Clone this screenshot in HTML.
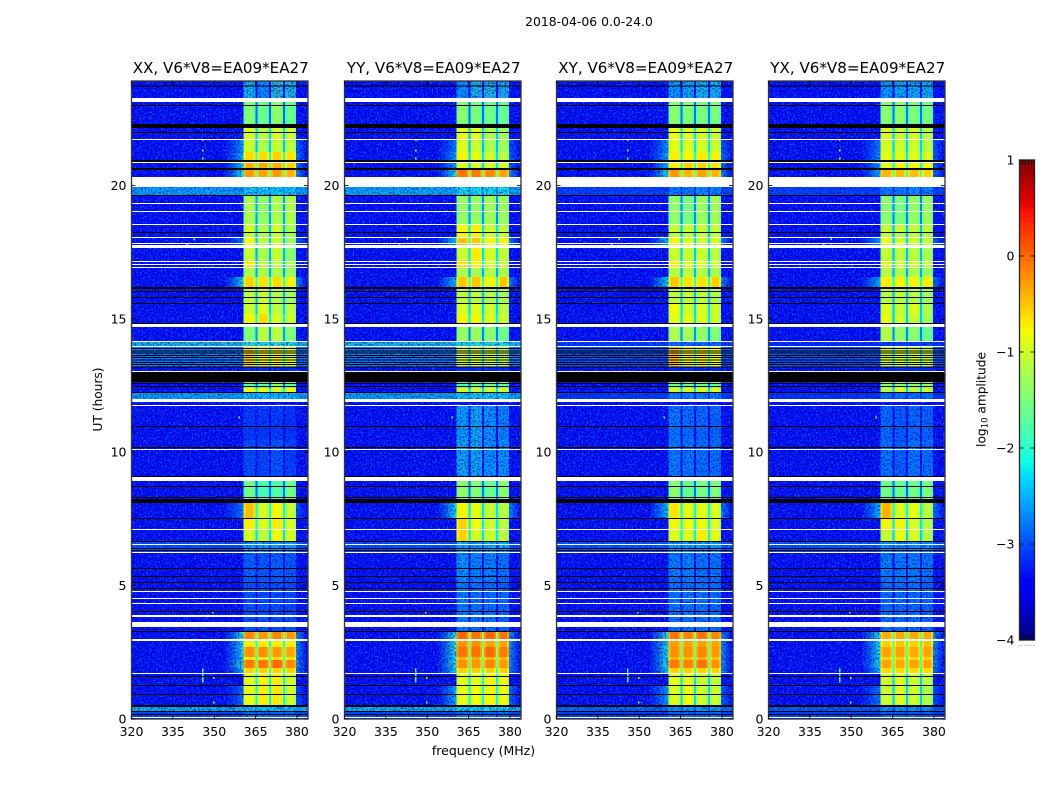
<!DOCTYPE html>
<html lang="en">
<head>
<meta charset="utf-8">
<title>2018-04-06 0.0-24.0 amplitude waterfalls</title>
<style>
html,body{margin:0;padding:0;background:#fff;width:1050px;height:800px;overflow:hidden}
svg{display:block}
text{font-family:"DejaVu Sans","Liberation Sans",sans-serif;fill:#000}
</style>
</head>
<body>
<svg id="figure" xmlns="http://www.w3.org/2000/svg" width="1050" height="800" viewBox="0 0 1050 800">
  <defs id="defs">
    <filter id="speckle-light" x="0" y="0" width="1" height="1" color-interpolation-filters="sRGB">
      <feTurbulence type="fractalNoise" baseFrequency="0.62 0.5" numOctaves="2" seed="4"/>
      <feColorMatrix values="0 0 0 0 0  0 0 0 0 0.38  0 0 0 0 1  4 0 0 0 -2.05"/>
    </filter>
    <filter id="speckle-dark" x="0" y="0" width="1" height="1" color-interpolation-filters="sRGB">
      <feTurbulence type="fractalNoise" baseFrequency="0.6 0.52" numOctaves="2" seed="11"/>
      <feColorMatrix values="0 0 0 0 0  0 0 0 0 0  0 0 0 0 0.74  4.5 0 0 0 -2.15"/>
    </filter>
  </defs>
  <text x="589" y="26" font-size="12.4" text-anchor="middle">2018-04-06 0.0-24.0</text>
  <text x="483.5" y="755" font-size="12.5" text-anchor="middle">frequency (MHz)</text>
  <text x="0" y="0" font-size="12.2" text-anchor="middle" transform="translate(102 399.5) rotate(-90)">UT (hours)</text>
  <text x="0" y="0" font-size="12.2" text-anchor="middle" transform="translate(985.5 399.5) rotate(-90)">log<tspan font-size="8.5" dy="2">10</tspan><tspan dy="-2"> amplitude</tspan></text>
  <g id="panels"></g>
  <g id="colorbar"></g>
</svg>
<script>
// ---------- chart data (hours UT, MHz, log10 amplitude) ----------
const panelTitles = ["XX, V6*V8=EA09*EA27", "YY, V6*V8=EA09*EA27", "XY, V6*V8=EA09*EA27", "YX, V6*V8=EA09*EA27"];
const freqTicks = [320, 335, 350, 365, 380];
const hourTicks = [0, 5, 10, 15, 20];
const colorbarTicks = [1, 0, -1, -2, -3, -4];
const spwLow = [360.6, 365.6, 370.6, 375.6];
const spwHigh = [364.9, 369.9, 375.0, 379.7];
const backgroundLevel = -3.32;

const rowHigh = [23.91,23.13,22.15,21.70,21.25,20.84,20.58,19.94,19.60,18.52,18.22,18.03,17.65,17.13,16.90,16.57,16.12,15.55,15.18,14.69,14.13,13.95,13.19,12.63,12.41,12.22,11.73,10.46,8.92,8.10,7.50,7.08,6.63,6.22,5.10,3.26,2.92,2.70,2.32,2.21,1.91,1.69,1.27,0.45,0.30];
const rowLow  = [23.28,22.30,21.74,21.25,20.95,20.65,20.31,19.64,18.55,18.25,18.07,17.65,17.17,16.94,16.57,16.19,15.59,15.18,14.84,14.17,13.98,13.19,13.01,12.41,12.26,11.99,10.46,9.11,8.25,7.53,7.12,6.67,6.26,5.13,3.30,3.00,2.70,2.32,2.21,1.91,1.72,1.27,0.52,0.30,0];

const levelsXX = [
[-2.1,-2.4,-1.9,-2.0],[-1.45,-1.6,-1.35,-1.6],[-0.9,-1.1,-0.9,-1.0],[-1.0,-1.2,-1.05,-1.1],[-0.6,-0.6,-0.55,-0.65],
[-0.35,-0.35,-0.35,-0.55],[-0.25,-0.3,-0.25,-0.4],[-2.2,-2.2,-2.2,-2.2],[-1.2,-1.35,-1.2,-1.15],[-1.0,-1.2,-1.0,-1.2],
[-1.1,-1.2,-1.05,-1.25],[-0.8,-1.1,-1.0,-1.25],[-1.05,-1.2,-1.05,-1.4],[-0.7,-1.1,-1.1,-1.2],[-1.2,-1.2,-1.2,-1.3],
[-0.55,-0.65,-0.6,-0.75],[-1.05,-1.0,-1.15,-1.25],[-1.0,-0.9,-1.1,-1.1],[-0.75,-0.6,-0.95,-1.0],[-1.45,-1.1,-1.1,-1.45],
[-2.0,-2.0,-2.0,-2.0],[-0.55,-0.7,-0.7,-0.85],[-3.1,-3.1,-3.1,-3.1],[-1.6,-1.6,-1.3,-1.6],[-0.75,-0.8,-0.95,-0.8],
[-2.3,-2.3,-2.3,-2.3],[-3.0,-3.0,-3.0,-3.05],[-2.85,-2.9,-2.8,-2.95],[-1.55,-1.8,-1.75,-1.55],[-0.45,-0.95,-0.75,-1.05],
[-0.7,-0.9,-0.7,-0.95],[-0.95,-1.1,-0.8,-0.95],[-2.35,-2.35,-2.35,-2.35],[-2.7,-2.75,-2.7,-2.75],[-2.8,-2.8,-2.85,-2.85],
[-0.15,-0.25,-0.15,-0.25],[-0.7,-0.7,-0.7,-0.7],[-0.2,-0.2,-0.25,-0.3],[-0.65,-0.65,-0.6,-0.65],[-0.08,-0.08,0.0,-0.15],
[-0.55,-0.55,-0.55,-0.55],[-0.85,-0.75,-0.7,-0.95],[-0.82,-0.72,-0.68,-1.0],[-2.3,-2.3,-2.3,-2.3],[-2.7,-2.7,-2.7,-2.7]];

const levelsYY = [
[-2.4,-2.0,-2.0,-2.1],[-1.4,-1.5,-1.55,-1.6],[-0.85,-0.9,-1.15,-1.25],[-0.9,-1.05,-1.2,-1.25],[-0.75,-0.85,-1.0,-1.1],
[-0.9,-0.95,-0.95,-1.0],[-0.05,-0.1,-0.15,-0.3],[-2.1,-2.1,-2.1,-2.1],[-1.35,-1.35,-1.25,-1.3],[-0.75,-0.7,-1.0,-1.1],
[-0.75,-0.7,-0.95,-1.0],[-0.45,-0.5,-0.75,-0.75],[-1.0,-0.7,-0.95,-1.05],[-0.65,-0.75,-0.95,-1.0],[-1.2,-1.25,-1.15,-1.2],
[-0.5,-0.5,-0.75,-0.5],[-1.05,-1.1,-1.15,-1.2],[-0.95,-0.9,-1.0,-1.1],[-0.75,-0.75,-0.9,-1.0],[-1.3,-1.3,-1.4,-1.55],
[-2.0,-2.0,-2.0,-2.0],[-0.95,-0.95,-1.0,-1.05],[-3.1,-3.1,-3.1,-3.1],[-1.7,-1.5,-1.5,-1.6],[-0.95,-1.0,-0.95,-1.0],
[-2.2,-2.2,-2.2,-2.2],[-2.25,-2.2,-2.35,-2.45],[-2.2,-2.2,-2.35,-2.35],[-1.35,-1.45,-1.6,-1.4],[-0.75,-0.85,-1.05,-1.1],
[-0.55,-0.8,-1.0,-1.1],[-0.55,-0.95,-1.0,-1.1],[-2.25,-2.25,-2.25,-2.25],[-2.35,-2.45,-2.45,-2.55],[-2.5,-2.55,-2.6,-2.65],
[0.02,-0.05,0.02,-0.05],[-0.2,-0.2,-0.3,-0.3],[-0.05,-0.05,0.0,-0.1],[-0.4,-0.4,-0.4,-0.4],[-0.2,-0.25,-0.15,-0.25],
[-0.55,-0.55,-0.55,-0.55],[-0.85,-0.85,-0.75,-0.8],[-0.82,-0.8,-0.75,-0.8],[-2.2,-2.2,-2.2,-2.2],[-2.7,-2.7,-2.7,-2.7]];

const levelsXY = [
[-2.3,-2.2,-2.1,-2.15],[-1.4,-1.45,-1.5,-1.5],[-0.8,-0.9,-0.95,-1.0],[-0.85,-0.9,-0.95,-1.0],[-0.7,-0.75,-0.7,-0.75],
[-0.7,-0.55,-0.55,-0.65],[-0.25,-0.4,-0.3,-0.4],[-2.6,-2.6,-2.5,-2.55],[-1.35,-1.5,-1.3,-1.25],[-1.05,-1.05,-1.05,-1.05],
[-1.05,-1.1,-1.05,-1.1],[-0.75,-0.9,-1.0,-0.95],[-1.0,-1.05,-1.0,-1.1],[-0.7,-0.9,-0.95,-1.0],[-1.1,-1.1,-1.15,-1.2],
[-0.5,-0.65,-0.65,-0.55],[-1.05,-1.05,-1.1,-1.15],[-0.8,-1.0,-0.95,-1.0],[-0.85,-0.85,-0.9,-1.0],[-1.2,-1.25,-1.35,-1.45],
[-2.7,-2.7,-2.7,-2.7],[-0.4,-0.7,-0.7,-0.8],[-3.1,-3.1,-3.1,-3.1],[-1.5,-1.5,-1.5,-1.6],[-0.95,-0.95,-0.9,-0.9],
[-2.55,-2.55,-2.55,-2.55],[-2.55,-2.6,-2.65,-2.65],[-2.5,-2.55,-2.6,-2.6],[-1.4,-1.6,-1.5,-1.45],[-0.65,-0.85,-0.85,-0.9],
[-0.75,-0.8,-0.8,-0.9],[-0.9,-0.9,-0.7,-0.85],[-2.4,-2.4,-2.4,-2.4],[-2.5,-2.45,-2.55,-2.55],[-2.55,-2.55,-2.55,-2.6],
[-0.05,-0.15,-0.05,-0.15],[-0.25,-0.3,-0.3,-0.3],[-0.2,-0.2,-0.15,-0.25],[-0.4,-0.45,-0.35,-0.45],[-0.08,-0.12,-0.03,-0.22],
[-0.55,-0.55,-0.55,-0.55],[-0.85,-0.85,-1.0,-1.05],[-0.9,-0.8,-1.0,-1.0],[-2.45,-2.45,-2.45,-2.45],[-2.7,-2.7,-2.7,-2.7]];

const levelsYX = [
[-2.3,-2.2,-2.2,-2.15],[-1.4,-1.4,-1.5,-1.5],[-0.9,-1.0,-0.95,-1.1],[-0.95,-1.0,-1.0,-1.1],[-0.85,-0.85,-0.9,-0.9],
[-0.85,-0.75,-0.75,-0.8],[-0.4,-0.45,-0.45,-0.55],[-2.6,-2.6,-2.5,-2.55],[-1.4,-1.5,-1.35,-1.3],[-1.05,-1.05,-1.05,-1.1],
[-1.05,-1.15,-1.1,-1.15],[-0.85,-1.0,-1.0,-1.05],[-1.05,-1.1,-1.1,-1.2],[-0.85,-1.0,-1.0,-1.05],[-1.15,-1.2,-1.2,-1.3],
[-0.7,-0.75,-0.75,-0.7],[-1.1,-1.1,-1.1,-1.25],[-0.95,-1.05,-0.9,-1.2],[-0.85,-1.0,-1.05,-1.25],[-1.15,-1.35,-1.4,-1.6],
[-3.0,-3.0,-3.0,-3.0],[-0.95,-0.95,-0.95,-1.0],[-3.1,-3.1,-3.1,-3.1],[-1.3,-1.3,-1.3,-1.3],[-1.1,-0.9,-1.1,-0.95],
[-2.65,-2.65,-2.65,-2.65],[-2.65,-2.75,-2.65,-2.7],[-2.55,-2.7,-2.55,-2.6],[-1.55,-1.6,-1.55,-1.5],[-0.4,-0.9,-0.85,-1.1],
[-0.75,-0.75,-0.95,-1.15],[-1.05,-0.85,-0.95,-1.15],[-2.45,-2.45,-2.45,-2.45],[-2.5,-2.5,-2.5,-2.55],[-2.6,-2.6,-2.6,-2.65],
[-0.35,-0.35,-0.35,-0.35],[-0.55,-0.5,-0.55,-0.45],[-0.3,-0.3,-0.35,-0.3],[-0.55,-0.55,-0.6,-0.55],[-0.3,-0.35,-0.3,-0.3],
[-0.6,-0.6,-0.6,-0.6],[-0.95,-0.9,-1.0,-1.1],[-1.0,-0.9,-1.0,-1.15],[-2.5,-2.5,-2.5,-2.5],[-2.75,-2.75,-2.75,-2.75]];

const bandIndex = [7, 20, 21, 25, 32, 43, 44];
const bandLevelsXX = [-2.25, -2.0, -2.45, -2.25, -2.8, -2.15, -2.85];
const bandLevelsYY = [-2.2, -2.05, -2.45, -2.25, -2.8, -2.15, -2.85];
const bandLevelsXY = [-2.95, -3.0, -2.75, -3.0, -2.75, -2.65, -2.9];
const bandLevelsYX = [-2.95, -3.1, -2.75, -3.05, -2.75, -2.75, -2.9];

const shoulderIndex = [3, 4, 5, 6, 11, 15, 29, 35, 36, 37, 38, 39, 40, 42];
const shoulderXX = [-2.55, -2.4, -2.2, -2.1, -2.7, -2.2, -2.7, -2.0, -2.15, -2.2, -2.4, -2.0, -2.4, -2.8];
const shoulderYY = [-2.7, -2.5, -2.5, -2.05, -2.25, -2.3, -2.2, -1.95, -2.0, -2.0, -2.2, -1.95, -2.2, -2.4];
const shoulderXY = [-2.55, -2.4, -2.3, -2.05, -2.3, -2.2, -2.3, -1.9, -2.1, -2.05, -2.2, -2.0, -2.2, -2.5];
const shoulderYX = [-2.7, -2.6, -2.5, -2.4, -2.5, -2.4, -2.35, -2.0, -2.15, -2.1, -2.3, -2.15, -2.4, -2.7];

const whiteHigh = [23.28,21.74,20.88,20.31,19.34,19.04,18.55,18.07,17.84,17.77,17.17,17.05,16.94,14.81,14.17,13.98,13.04,11.99,11.77,10.12,9.07,7.12,6.56,6.26,4.80,4.54,4.35,3.90,3.64,3.00,1.72,0.07];
const whiteLow  = [23.13,21.70,20.84,19.94,19.30,19.00,18.52,18.03,17.80,17.65,17.13,17.02,16.90,14.69,14.13,13.95,13.01,11.88,11.73,10.08,8.92,7.08,6.52,6.22,4.76,4.50,4.31,3.82,3.45,2.92,1.69,0.04];
const blackHigh = [23.74,23.01,22.30,22.00,20.95,20.65,19.64,18.25,16.19,16.04,15.82,15.59,14.84,13.01,12.59,12.48,12.26,10.98,10.19,9.11,8.73,8.32,8.25,7.53,6.67,6.41,6.33,5.66,5.36,5.13,4.91,4.05,3.30,1.61,1.27,0.94,0.52,0.30,0.19];
const blackLow  = [23.71,22.97,22.15,21.96,20.88,20.58,19.60,18.22,16.12,16.00,15.78,15.55,14.81,12.63,12.56,12.44,12.22,10.94,10.16,9.07,8.70,8.28,8.10,7.50,6.63,6.37,6.30,5.62,5.32,5.10,4.87,4.01,3.26,1.57,1.24,0.90,0.45,0.26,0.15];
const stripeHours = [13.90,13.82,13.73,13.65,13.56,13.48,13.39,13.31,13.22];

const rfiFreq  = [345.6,345.6,345.6,345.6,345.6,345.6,349.5,349.5,349.2,345.5,345.5,345.5,342.5,339.8,358.8];
const rfiHour  = [1.40,1.48,1.56,1.64,1.78,1.86,0.62,1.54,3.99,21.7,21.3,21.0,18.0,17.8,11.3];
const rfiLevel = [-1.8,-1.8,-1.8,-1.8,-1.8,-1.8,-1.3,-1.5,-1.3,-1.2,-1.1,-1.2,-1.7,-1.7,-1.6];

const panelLevels = [levelsXX, levelsYY, levelsXY, levelsYX];
const panelBands = [bandLevelsXX, bandLevelsYY, bandLevelsXY, bandLevelsYX];
const panelShoulders = [shoulderXX, shoulderYY, shoulderXY, shoulderYX];

// ---------- layout and scales ----------
const SVG_NS = "http://www.w3.org/2000/svg";
const panelLefts = [131.5, 344.5, 556.5, 768.5];
const panelWidth = 176.5;
const plotTop = 81, plotBottom = 719;
const freqMin = 320, freqMax = 384;
const pxPerHour = 26.68;
const cbLeft = 1019.5, cbRight = 1034.5, cbTop = 160, cbBottom = 640;
const quietThreshold = -1.85;
const edgeWidthMHz = 0.7;
const edgeDrop = 0.22;

function xScale(panel, freq) { return panelLefts[panel] + (freq - freqMin) / (freqMax - freqMin) * panelWidth; }
function yScale(hour) { return plotBottom - hour * pxPerHour; }
function cbScale(level) { return cbTop + (1 - level) / 5 * (cbBottom - cbTop); }

function piece(f, pts) {
  if (f <= pts[0][0]) return pts[0][1];
  for (let i = 1; i < pts.length; i++) {
    if (f <= pts[i][0]) {
      const a = pts[i - 1], b = pts[i];
      return a[1] + (b[1] - a[1]) * (f - a[0]) / (b[0] - a[0]);
    }
  }
  return pts[pts.length - 1][1];
}
function jet(level) {
  const f = Math.max(0, Math.min(1, (level + 4) / 5));
  const r = piece(f, [[0.35, 0], [0.66, 1], [0.89, 1], [1, 0.5]]);
  const g = piece(f, [[0.125, 0], [0.375, 1], [0.64, 1], [0.91, 0]]);
  const b = piece(f, [[0, 0.5], [0.11, 1], [0.34, 1], [0.65, 0]]);
  return "rgb(" + Math.round(r * 255) + "," + Math.round(g * 255) + "," + Math.round(b * 255) + ")";
}
function rect(parent, name, x, y, w, h, fill) {
  const el = document.createElementNS(SVG_NS, "rect");
  el.setAttribute("x", x);
  el.setAttribute("y", y);
  el.setAttribute("width", w);
  el.setAttribute("height", h);
  el.setAttribute("fill", fill);
  el.setAttribute("shape-rendering", "crispEdges");
  
  
  parent.appendChild(el);
  return el;
}
function line(parent, name, x1, y1, x2, y2, color, width) {
  const el = document.createElementNS(SVG_NS, "line");
  el.setAttribute("x1", x1);
  el.setAttribute("y1", y1);
  el.setAttribute("x2", x2);
  el.setAttribute("y2", y2);
  el.setAttribute("stroke", color);
  el.setAttribute("stroke-width", width);
  
  
  parent.appendChild(el);
  return el;
}
function label(parent, name, x, y, str, size, anchor) {
  const el = document.createElementNS(SVG_NS, "text");
  el.setAttribute("x", x);
  el.setAttribute("y", y);
  el.setAttribute("font-size", size);
  el.setAttribute("text-anchor", anchor);
  el.textContent = str;
  
  
  parent.appendChild(el);
  return el;
}
function group(parent, name) {
  const el = document.createElementNS(SVG_NS, "g");
  
  
  parent.appendChild(el);
  return el;
}
function addStop(grad, offset, color, opacity) {
  const s = document.createElementNS(SVG_NS, "stop");
  s.setAttribute("offset", offset);
  s.setAttribute("stop-color", color);
  s.setAttribute("stop-opacity", opacity);
  grad.appendChild(s);
}
function shoulderGradient(id, level, reverse) {
  const grad = document.createElementNS(SVG_NS, "linearGradient");
  grad.setAttribute("id", id);
  const c = jet(level);
  if (reverse) {
    addStop(grad, 0, c, 0.6);
    addStop(grad, 1, c, 0);
  } else {
    addStop(grad, 0, c, 0);
    addStop(grad, 0.45, c, 0.35);
    addStop(grad, 1, c, 1);
  }
  document.getElementById("defs").appendChild(grad);
}

// ---------- panels ----------
const panelsRoot = document.getElementById("panels");
panelTitles.forEach(function (title, p) {
  const g = group(panelsRoot, "panel-" + title.slice(0, 2).toLowerCase());
  const left = panelLefts[p], right = left + panelWidth;
  const plotH = plotBottom - plotTop;

  const clip = document.createElementNS(SVG_NS, "clipPath");
  clip.setAttribute("id", "clip-" + p);
  const clipRect = document.createElementNS(SVG_NS, "rect");
  clipRect.setAttribute("x", left);
  clipRect.setAttribute("y", plotTop);
  clipRect.setAttribute("width", panelWidth);
  clipRect.setAttribute("height", plotH);
  clip.appendChild(clipRect);
  document.getElementById("defs").appendChild(clip);

  const heat = group(g, "heatmap");
  heat.setAttribute("clip-path", "url(#clip-" + p + ")");
  rect(heat, "heatmap-background", left, plotTop, panelWidth, plotH, jet(backgroundLevel));

  // speckle texture under the brighter rows
  const n1 = rect(heat, "noise-texture-light", left, plotTop, panelWidth, plotH, "#000");
  n1.setAttribute("filter", "url(#speckle-light)");
  const n2 = rect(heat, "noise-texture-dark", left, plotTop, panelWidth, plotH, "#000");
  n2.setAttribute("filter", "url(#speckle-dark)");

  // whole-width brighter rows
  bandIndex.forEach(function (r, i) {
    const band = rect(heat, "broadband-row", left, yScale(rowHigh[r]), panelWidth, yScale(rowLow[r]) - yScale(rowHigh[r]), jet(panelBands[p][i]));
    band.setAttribute("fill-opacity", "0.72");
  });

  // shoulders either side of the band
  shoulderIndex.forEach(function (r, i) {
    const lv = panelShoulders[p][i];
    const idL = "sh-l-" + p + "-" + i, idR = "sh-r-" + p + "-" + i;
    shoulderGradient(idL, lv, false);
    shoulderGradient(idR, lv, true);
    const yTop = yScale(rowHigh[r]), h = yScale(rowLow[r]) - yTop;
    rect(heat, "band-shoulder-left", xScale(p, 353.5), yTop, xScale(p, spwLow[0]) - xScale(p, 353.5), h, "url(#" + idL + ")");
    rect(heat, "band-shoulder-right", xScale(p, spwHigh[3]), yTop, xScale(p, 383.5) - xScale(p, spwHigh[3]), h, "url(#" + idR + ")");
  });

  // quiet spectral-window cells stay mottled
  panelLevels[p].forEach(function (row, r) {
    const yTop = yScale(rowHigh[r]), h = yScale(rowLow[r]) - yTop;
    row.forEach(function (level, s) {
      if (level < quietThreshold) {
        const cell = rect(heat, "heatmap-cell-quiet", xScale(p, spwLow[s]), yTop, xScale(p, spwHigh[s]) - xScale(p, spwLow[s]), h, jet(level));
        cell.setAttribute("fill-opacity", "0.72");
      }
    });
  });

  // speckle over the quiet cells
  const n3 = rect(heat, "noise-overlay-light", left, plotTop, panelWidth, plotH, "#000");
  n3.setAttribute("filter", "url(#speckle-light)");
  n3.setAttribute("opacity", "0.6");
  const n4 = rect(heat, "noise-overlay-dark", left, plotTop, panelWidth, plotH, "#000");
  n4.setAttribute("filter", "url(#speckle-dark)");
  n4.setAttribute("opacity", "0.6");

  // bright spectral-window cells with slightly cooler edge channels
  panelLevels[p].forEach(function (row, r) {
    const yTop = yScale(rowHigh[r]), h = yScale(rowLow[r]) - yTop;
    const mean = (row[0] + row[1] + row[2] + row[3]) / 4;
    if (mean > quietThreshold) {
      rect(heat, "spw-gap-cell", xScale(p, spwLow[0]), yTop, xScale(p, spwHigh[3]) - xScale(p, spwLow[0]), h, jet(Math.max(-2.85, mean - 1.35)));
    }
    row.forEach(function (level, s) {
      if (level >= quietThreshold) {
        rect(heat, "heatmap-cell", xScale(p, spwLow[s]), yTop, xScale(p, spwHigh[s]) - xScale(p, spwLow[s]), h, jet(level));
        rect(heat, "heatmap-cell-edge", xScale(p, spwLow[s]), yTop, edgeWidthMHz * panelWidth / (freqMax - freqMin), h, jet(level - edgeDrop));
        rect(heat, "heatmap-cell-edge", xScale(p, spwHigh[s] - edgeWidthMHz), yTop, edgeWidthMHz * panelWidth / (freqMax - freqMin), h, jet(level - edgeDrop));
      }
    });
  });

  // isolated interference spikes
  rfiFreq.forEach(function (f, i) {
    rect(heat, "rfi-point", xScale(p, f), yScale(rfiHour[i]) - 1, 1.5, 2, jet(rfiLevel[i]));
  });

  // striped interval, flagged rows
  stripeHours.forEach(function (h) {
    rect(heat, "striped-flag-row", left, yScale(h), panelWidth, 1, "#000010");
  });
  blackHigh.forEach(function (h, i) {
    rect(heat, "flag-black-row", left, yScale(h), panelWidth, Math.max(1, yScale(blackLow[i]) - yScale(h)), "#000");
  });
  whiteHigh.forEach(function (h, i) {
    rect(heat, "flag-white-row", left, yScale(h), panelWidth, Math.max(1, yScale(whiteLow[i]) - yScale(h)), "#fff");
  });

  // frame
  const frame = rect(g, "axes-frame", left, plotTop, panelWidth, plotH, "none");
  frame.setAttribute("stroke", "#333");
  frame.setAttribute("stroke-width", "1.3");
  frame.removeAttribute("shape-rendering");

  // ticks and tick labels
  freqTicks.forEach(function (f) {
    const x = xScale(p, f);
    line(g, "x-tick-bottom", x, plotBottom, x, plotBottom - 4, "#000", 0.8);
    line(g, "x-tick-top", x, plotTop, x, plotTop + 4, "#000", 0.8);
    label(g, "x-tick-label", x, plotBottom + 17, String(f), 12.5, "middle");
  });
  hourTicks.forEach(function (h) {
    const y = yScale(h);
    line(g, "y-tick-left", left, y, left + 4, y, "#000", 0.8);
    line(g, "y-tick-right", right, y, right - 4, y, "#000", 0.8);
    label(g, "y-tick-label", left - 5, y + 4.5, String(h), 12.5, "end");
  });
  label(g, "panel-title", left + panelWidth / 2 + 1, 73, title, 15.1, "middle");
});

// ---------- colorbar ----------
const cbRoot = document.getElementById("colorbar");
for (let v = -4; v < 1 - 1e-9; v += 0.05) {
  rect(cbRoot, "colorbar-cell", cbLeft, cbScale(v + 0.05), cbRight - cbLeft, cbScale(v) - cbScale(v + 0.05) + 0.5, jet(v + 0.025));
}
const cbFrame = rect(cbRoot, "colorbar-frame", cbLeft, cbTop, cbRight - cbLeft, cbBottom - cbTop, "none");
cbFrame.setAttribute("stroke", "#222");
cbFrame.setAttribute("stroke-width", "1.3");
cbFrame.removeAttribute("shape-rendering");
colorbarTicks.forEach(function (t) {
  const y = cbScale(t);
  line(cbRoot, "colorbar-tick-left", cbLeft, y, cbLeft + 4, y, "#000", 0.8);
  line(cbRoot, "colorbar-tick-right", cbRight, y, cbRight - 4, y, "#000", 0.8);
  label(cbRoot, "colorbar-tick-label", cbLeft - 5, y + 4.5, String(t).replace("-", "\u2212"), 12.5, "end");
});
for (let i = 1; i < 5; i++) {
  const x = cbLeft + i * 3;
  line(cbRoot, "colorbar-minor-tick", x, cbTop, x, cbTop + 5, "#000", 0.7);
  line(cbRoot, "colorbar-minor-tick", x, cbBottom, x, cbBottom - 5, "#000", 0.7);
}
for (let i = 0; i < 6; i++) {
  rect(cbRoot, "colorbar-offset-dot", cbLeft - 1 + i * 3, 645, 1, 1, "#888");
}
</script>
</body>
</html>
